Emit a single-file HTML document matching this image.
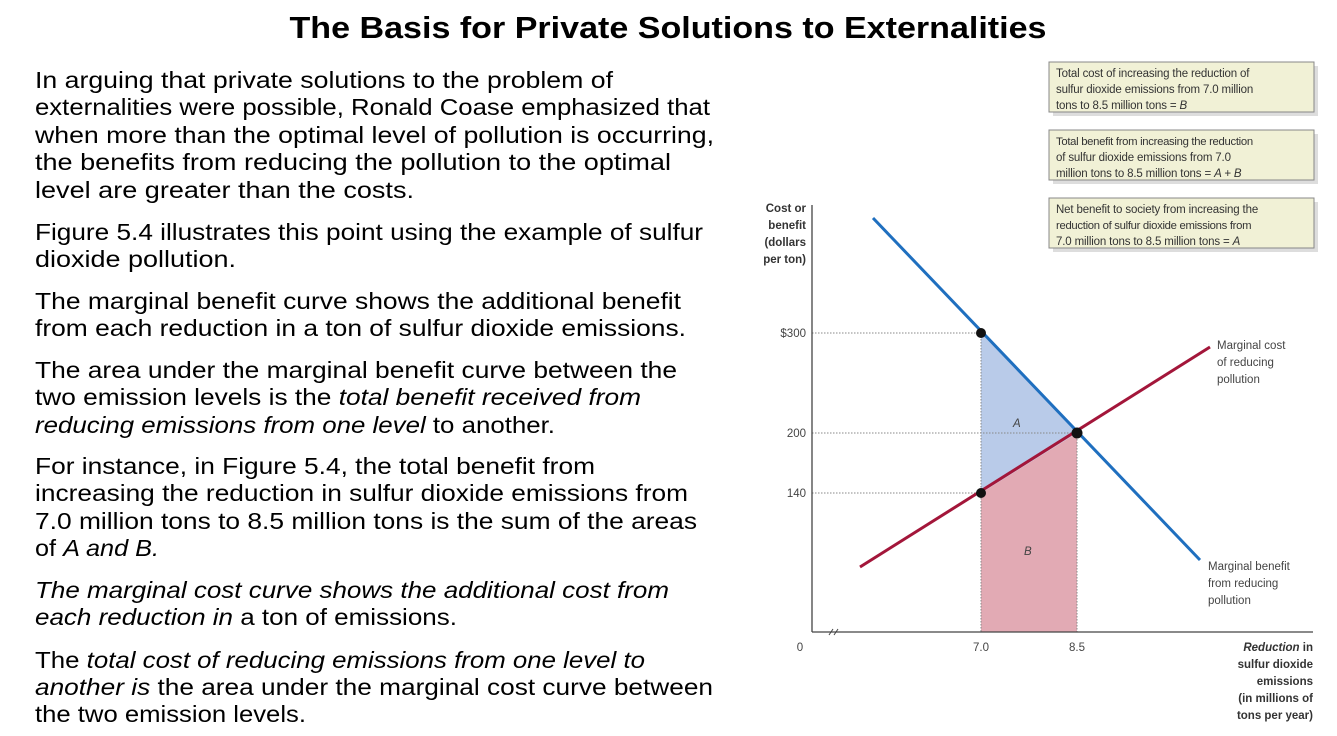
<!DOCTYPE html>
<html><head><meta charset="utf-8"><style>
html,body{margin:0;padding:0;background:#fff;width:1337px;height:736px;overflow:hidden}
svg{display:block}
text{font-family:"Liberation Sans",Arial,sans-serif}
</style></head><body>
<svg width="1337" height="736" viewBox="0 0 1337 736" xmlns="http://www.w3.org/2000/svg">
<text x="668" y="38" text-anchor="middle" font-size="31" font-weight="bold" textLength="757" lengthAdjust="spacingAndGlyphs">The Basis for Private Solutions to Externalities</text>
<g font-size="23.5" fill="#000">
<text x="35" y="88" textLength="578" lengthAdjust="spacingAndGlyphs">In arguing that private solutions to the problem of</text>
<text x="35" y="115" textLength="675" lengthAdjust="spacingAndGlyphs">externalities were possible, Ronald Coase emphasized that</text>
<text x="35" y="143" textLength="679" lengthAdjust="spacingAndGlyphs">when more than the optimal level of pollution is occurring,</text>
<text x="35" y="170" textLength="636" lengthAdjust="spacingAndGlyphs">the benefits from reducing the pollution to the optimal</text>
<text x="35" y="198" textLength="379" lengthAdjust="spacingAndGlyphs">level are greater than the costs.</text>
<text x="35" y="240" textLength="668" lengthAdjust="spacingAndGlyphs">Figure 5.4 illustrates this point using the example of sulfur</text>
<text x="35" y="267" textLength="201" lengthAdjust="spacingAndGlyphs">dioxide pollution.</text>
<text x="35" y="309" textLength="646" lengthAdjust="spacingAndGlyphs">The marginal benefit curve shows the additional benefit</text>
<text x="35" y="336" textLength="651" lengthAdjust="spacingAndGlyphs">from each reduction in a ton of sulfur dioxide emissions.</text>
<text x="35" y="378" textLength="642" lengthAdjust="spacingAndGlyphs">The area under the marginal benefit curve between the</text>
<text x="35" y="405" textLength="606" lengthAdjust="spacingAndGlyphs">two emission levels is the <tspan font-style="italic">total benefit received from</tspan></text>
<text x="35" y="433" textLength="520" lengthAdjust="spacingAndGlyphs"><tspan font-style="italic">reducing emissions from one level</tspan> to another.</text>
<text x="35" y="474" textLength="560" lengthAdjust="spacingAndGlyphs">For instance, in Figure 5.4, the total benefit from</text>
<text x="35" y="501" textLength="653" lengthAdjust="spacingAndGlyphs">increasing the reduction in sulfur dioxide emissions from</text>
<text x="35" y="529" textLength="662" lengthAdjust="spacingAndGlyphs">7.0 million tons to 8.5 million tons is the sum of the areas</text>
<text x="35" y="556" textLength="124" lengthAdjust="spacingAndGlyphs">of <tspan font-style="italic">A and B.</tspan></text>
<text x="35" y="598" textLength="634" lengthAdjust="spacingAndGlyphs" font-style="italic">The marginal cost curve shows the additional cost from</text>
<text x="35" y="625" textLength="422" lengthAdjust="spacingAndGlyphs"><tspan font-style="italic">each reduction in</tspan> a ton of emissions.</text>
<text x="35" y="668" textLength="610" lengthAdjust="spacingAndGlyphs">The <tspan font-style="italic">total cost of reducing emissions from one level to</tspan></text>
<text x="35" y="695" textLength="678" lengthAdjust="spacingAndGlyphs"><tspan font-style="italic">another is</tspan> the area under the marginal cost curve between</text>
<text x="35" y="722" textLength="271" lengthAdjust="spacingAndGlyphs">the two emission levels.</text>
</g>
<!-- boxes -->
<g font-size="11.5" fill="#333" letter-spacing="-0.15">
<rect x="1053" y="66" width="265" height="50" fill="#ddd"/>
<rect x="1049" y="62" width="265" height="50" fill="#f1f1d6" stroke="#888"/>
<text x="1056" y="77">Total cost of increasing the reduction of</text>
<text x="1056" y="93">sulfur dioxide emissions from 7.0 million</text>
<text x="1056" y="109">tons to 8.5 million tons = <tspan font-style="italic">B</tspan></text>
<rect x="1053" y="134" width="265" height="50" fill="#ddd"/>
<rect x="1049" y="130" width="265" height="50" fill="#f1f1d6" stroke="#888"/>
<text x="1056" y="145" font-size="11.3" letter-spacing="-0.3">Total benefit from increasing the reduction</text>
<text x="1056" y="161">of sulfur dioxide emissions from 7.0</text>
<text x="1056" y="177">million tons to 8.5 million tons = <tspan font-style="italic">A + B</tspan></text>
<rect x="1053" y="202" width="265" height="50" fill="#ddd"/>
<rect x="1049" y="198" width="265" height="50" fill="#f1f1d6" stroke="#888"/>
<text x="1056" y="213">Net benefit to society from increasing the</text>
<text x="1056" y="229" font-size="11.3" letter-spacing="-0.3">reduction of sulfur dioxide emissions from</text>
<text x="1056" y="245">7.0 million tons to 8.5 million tons = <tspan font-style="italic">A</tspan></text>
</g>
<!-- areas -->
<polygon points="981,333 1077,433 981,493" fill="#b9cbe9"/>
<polygon points="981,493 1077,433 1077,632 981,632" fill="#e2aab4"/>
<g stroke="#888" stroke-dasharray="1.5,1.5" stroke-width="1">
<line x1="812" y1="333" x2="981" y2="333"/>
<line x1="812" y1="433" x2="1077" y2="433"/>
<line x1="812" y1="493" x2="981" y2="493"/>
<line x1="981" y1="333" x2="981" y2="632"/>
<line x1="1077" y1="433" x2="1077" y2="632"/>
</g>
<!-- axes -->
<line x1="812" y1="205" x2="812" y2="632" stroke="#444" stroke-width="1.3"/>
<line x1="812" y1="632" x2="1313" y2="632" stroke="#444" stroke-width="1.3"/>
<line x1="829" y1="635" x2="833" y2="629" stroke="#444"/><line x1="834" y1="635" x2="838" y2="629" stroke="#444"/>
<!-- curves -->
<line x1="873" y1="218" x2="1200" y2="560" stroke="#1f6fbf" stroke-width="3"/>
<line x1="860" y1="567" x2="1210" y2="347" stroke="#a3163a" stroke-width="3"/>
<circle cx="981" cy="333" r="5" fill="#111"/>
<circle cx="1077" cy="433" r="5.5" fill="#111"/>
<circle cx="981" cy="493" r="5" fill="#111"/>
<g font-size="11.5" fill="#444">
<text x="1013" y="427" font-style="italic">A</text>
<text x="1024" y="555" font-style="italic">B</text>
<text x="806" y="337" text-anchor="end">$300</text>
<text x="806" y="437" text-anchor="end">200</text>
<text x="806" y="497" text-anchor="end">140</text>
<text x="800" y="651" text-anchor="middle">0</text>
<text x="981" y="651" text-anchor="middle">7.0</text>
<text x="1077" y="651" text-anchor="middle">8.5</text>
<text x="1217" y="349">Marginal cost</text>
<text x="1217" y="366">of reducing</text>
<text x="1217" y="383">pollution</text>
<text x="1208" y="570">Marginal benefit</text>
<text x="1208" y="587">from reducing</text>
<text x="1208" y="604">pollution</text>
<g font-weight="bold" fill="#333" text-anchor="end">
<text x="806" y="212">Cost or</text>
<text x="806" y="229">benefit</text>
<text x="806" y="246">(dollars</text>
<text x="806" y="263">per ton)</text>
<text x="1313" y="651"><tspan font-style="italic">Reduction</tspan> in</text>
<text x="1313" y="668">sulfur dioxide</text>
<text x="1313" y="685">emissions</text>
<text x="1313" y="702">(in millions of</text>
<text x="1313" y="719">tons per year)</text>
</g>
</g>
</svg>
</body></html>
